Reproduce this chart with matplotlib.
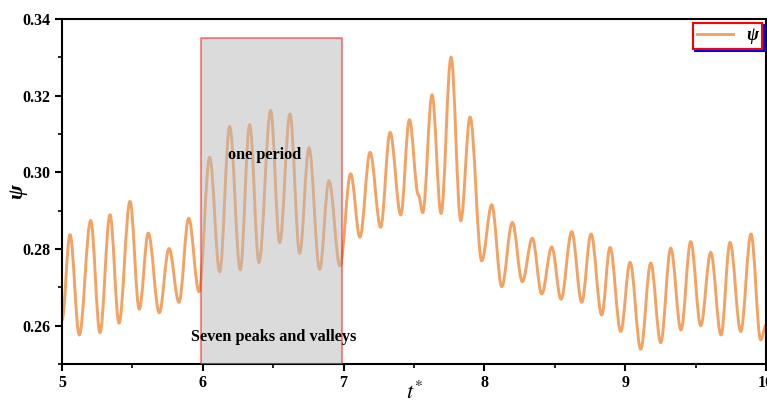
import numpy as np
import matplotlib.pyplot as plt
from matplotlib.path import Path
from matplotlib.patches import PathPatch, Rectangle
from matplotlib.lines import Line2D
from matplotlib.ticker import MultipleLocator

plt.rcParams['font.family'] = ['Liberation Serif', 'DejaVu Serif']
plt.rcParams['mathtext.fontset'] = 'stix'

# peaks and valleys of psi
t_star = [5.000, 5.057, 5.123, 5.204, 5.270, 5.341, 5.405, 5.483, 5.549, 5.613,
          5.691, 5.760, 5.831, 5.900, 5.973, 6.049, 6.120, 6.191, 6.266, 6.333,
          6.399, 6.482, 6.546, 6.619, 6.688, 6.754, 6.830, 6.896, 6.974, 7.050,
          7.116, 7.188, 7.263, 7.330, 7.406, 7.467, 7.531, 7.562, 7.628, 7.692,
          7.763, 7.832, 7.898, 7.981, 8.052, 8.123, 8.198, 8.269, 8.340, 8.407,
          8.478, 8.544, 8.620, 8.691, 8.757, 8.833, 8.892, 8.968, 9.034, 9.110,
          9.181, 9.252, 9.323, 9.396, 9.465, 9.536, 9.607, 9.680, 9.744, 9.820,
          9.893, 9.962, 10.000]
psi = [0.2615, 0.2837, 0.2576, 0.2874, 0.2582, 0.2889, 0.2607, 0.2924, 0.2643, 0.2841,
       0.2634, 0.2801, 0.2661, 0.2880, 0.2689, 0.3039, 0.2741, 0.3119, 0.2746, 0.3124,
       0.2765, 0.3161, 0.2817, 0.3152, 0.2789, 0.3064, 0.2747, 0.2978, 0.2756, 0.2996,
       0.2831, 0.3052, 0.2857, 0.3104, 0.2889, 0.3137, 0.2941, 0.2895, 0.3202, 0.2893,
       0.3300, 0.2874, 0.3144, 0.2769, 0.2915, 0.2702, 0.2869, 0.2715, 0.2828, 0.2683,
       0.2805, 0.2669, 0.2845, 0.2661, 0.2839, 0.2628, 0.2804, 0.2585, 0.2765, 0.2539,
       0.2763, 0.2556, 0.2802, 0.2589, 0.2819, 0.2600, 0.2791, 0.2576, 0.2817, 0.2585,
       0.2839, 0.2563, 0.2602]

period_start, period_end = 5.99, 6.99
box_top = 0.335

line_color = '#f4a262'

fig = plt.figure(figsize=(7.67, 4.01), dpi=100)
ax = fig.add_axes([0.0808, 0.0923, 0.918, 0.8603])

# smooth curve through the extrema (horizontal tangents at each point)
verts = [(t_star[0], psi[0])]
codes = [Path.MOVETO]
for i in range(len(t_star) - 1):
    x0, y0, x1, y1 = t_star[i], psi[i], t_star[i + 1], psi[i + 1]
    d = 0.36 * (x1 - x0)
    verts += [(x0 + d, y0), (x1 - d, y1), (x1, y1)]
    codes += [Path.CURVE4] * 3
ax.add_patch(PathPatch(Path(verts, codes), facecolor='none', edgecolor=line_color,
                       lw=2.1, zorder=2))

ax.add_patch(Rectangle((period_start, 0.25), period_end - period_start, box_top - 0.25,
                       facecolor='#b9b9b9', edgecolor='red', lw=1.3, alpha=0.5, zorder=3))

ax.text(6.44, 0.3045, 'one period', ha='center', va='center', fontsize=11.7,
        fontweight='bold', zorder=4)
ax.text(6.50, 0.2571, 'Seven peaks and valleys', ha='center', va='center', fontsize=11.7,
        fontweight='bold', zorder=4)

ax.set_xlim(5, 10)
ax.set_ylim(0.25, 0.34)
ax.xaxis.set_major_locator(MultipleLocator(1))
ax.xaxis.set_minor_locator(MultipleLocator(0.5))
ax.yaxis.set_minor_locator(MultipleLocator(0.01))
ax.set_yticks([0.26, 0.28, 0.30, 0.32, 0.34])
ax.set_yticklabels(['0.26', '0.28', '0.30', '0.32', '0.34'])

for s in ax.spines.values():
    s.set_linewidth(1.5)
ax.tick_params(which='major', direction='out', length=5, width=1.5, labelsize=11.5, pad=3)
ax.tick_params(which='minor', direction='out', length=3, width=1.2)
for lab in ax.get_xticklabels() + ax.get_yticklabels():
    lab.set_fontweight('bold')

ax.set_xlabel('$t^{*}$', fontsize=16, labelpad=-7)
ax.set_ylabel('ψ', fontsize=16, fontweight='bold', fontstyle='italic', labelpad=-3)

handle = Line2D([], [], color=line_color, lw=2.1)
leg = ax.legend([handle], ['ψ'], loc='upper right', fancybox=False,
                shadow={'color': 'blue', 'alpha': 1}, frameon=True,
                borderaxespad=0.2, borderpad=0.25, handlelength=2.0,
                handletextpad=0.7,
                prop={'weight': 'bold', 'style': 'italic', 'size': 13})
leg.get_frame().set_edgecolor('red')
leg.get_frame().set_linewidth(1.5)
leg.get_frame().set_alpha(1)

fig.savefig('out.png', dpi=100)
